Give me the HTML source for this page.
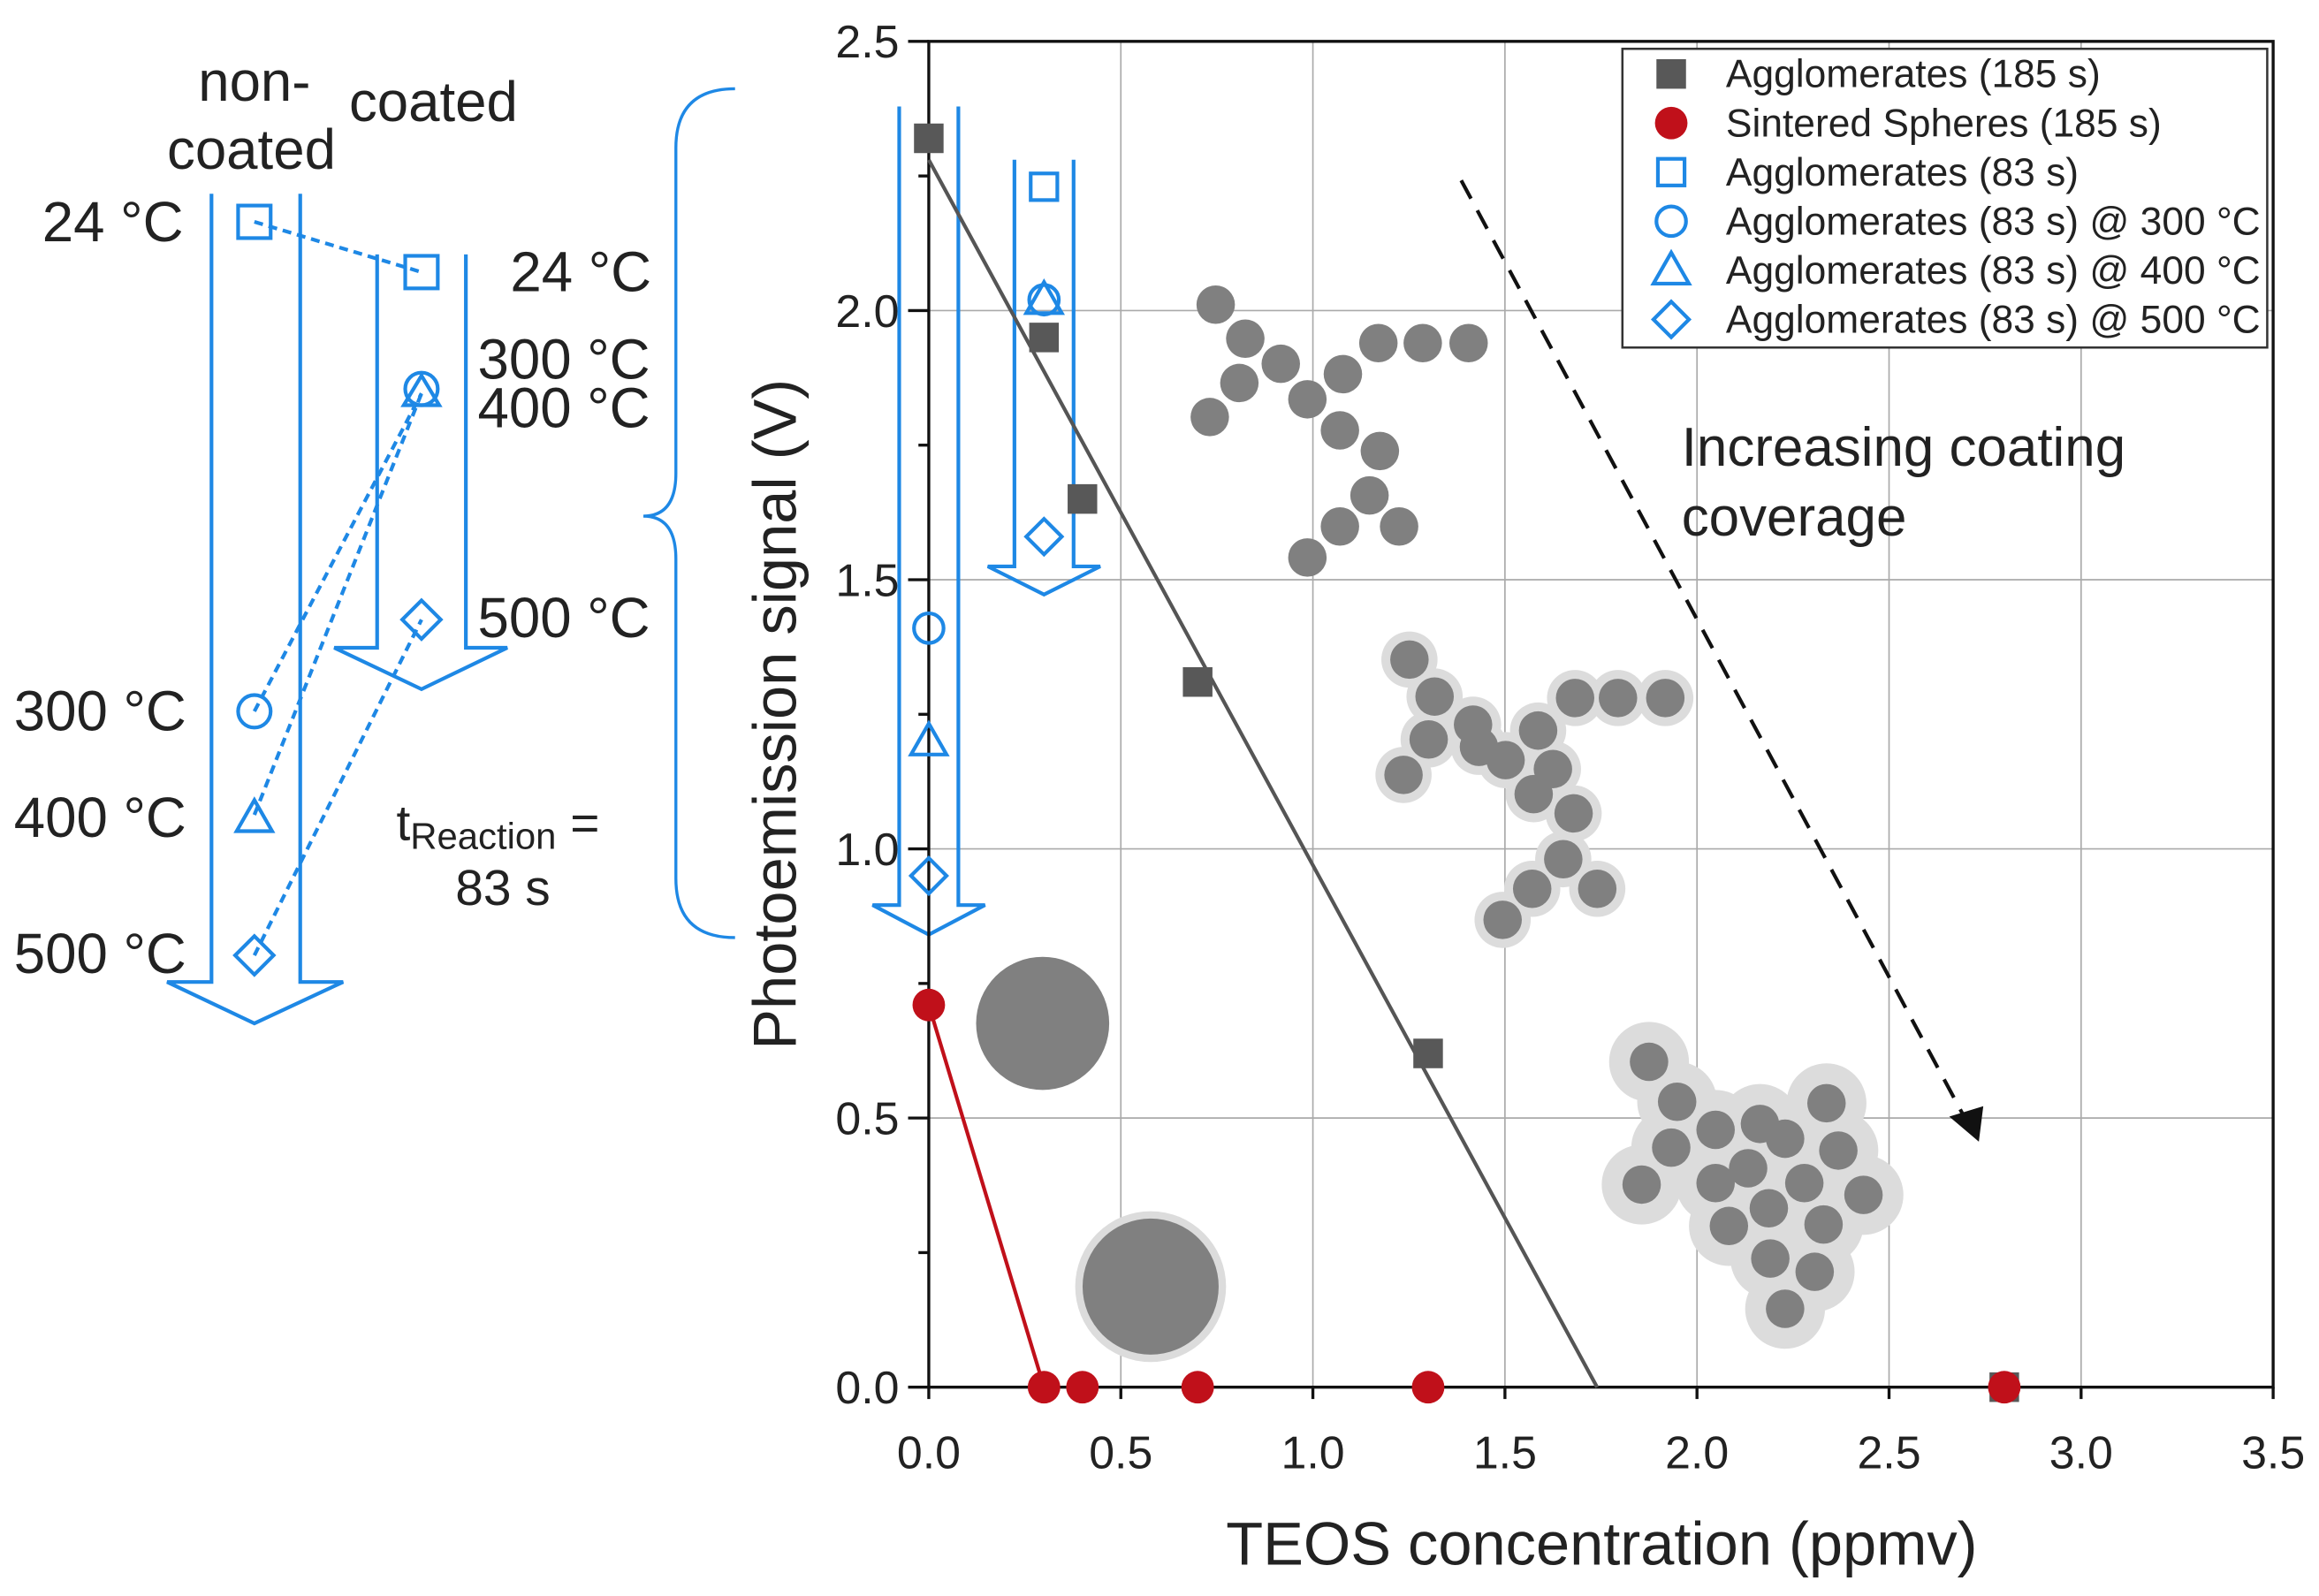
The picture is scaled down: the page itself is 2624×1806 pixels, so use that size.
<!DOCTYPE html>
<html><head><meta charset="utf-8">
<style>
html,body{margin:0;padding:0;background:#fff;}
svg{display:block;font-family:"Liberation Sans",Arial,sans-serif;}
</style></head>
<body>
<svg id="fig" width="2624" height="1806" viewBox="0 0 1568 1079.2" preserveAspectRatio="none" xmlns="http://www.w3.org/2000/svg">
<g id="schematic" fill="none" stroke="#1e88e5" stroke-width="2.5">
  <path d="M143,131 V664 H113 L172,692 L232,664 H203 V131"/>
  <path d="M255,172 V438 H226 L285,466 L343,438 H315 V172"/>
  <g stroke-dasharray="6,4" stroke-width="2.5">
    <line x1="172" y1="150" x2="285" y2="184"/>
    <line x1="172" y1="481" x2="285" y2="266"/>
    <line x1="172" y1="551" x2="285" y2="266"/>
    <line x1="172" y1="646" x2="285" y2="419"/>
  </g>
  <rect x="161" y="139" width="22" height="22"/>
  <rect x="274" y="173" width="22" height="22"/>
  <circle cx="285" cy="263" r="11"/>
  <path d="M285,254 L297,274 H273 Z"/>
  <path d="M285,406 L298,419 L285,432 L272,419 Z"/>
  <circle cx="172" cy="481" r="11"/>
  <path d="M172,541 L184,562 H160 Z"/>
  <path d="M172,633 L185,646 L172,659 L159,646 Z"/>
  <path stroke-width="2" d="M497,60 Q457,60 457,100 V320 Q457,349 435,349 Q457,349 457,378 V594 Q457,634 497,634"/>
</g>
<g font-size="38" fill="#222">
  <text x="172" y="68" text-anchor="middle">non-</text>
  <text x="170" y="114" text-anchor="middle">coated</text>
  <text x="236" y="82">coated</text>
  <text x="124" y="163" text-anchor="end">24 °C</text>
  <text x="345" y="197">24 °C</text>
  <text x="323" y="256">300 °C</text>
  <text x="323" y="289">400 °C</text>
  <text x="323" y="431">500 °C</text>
  <text x="126" y="494" text-anchor="end">300 °C</text>
  <text x="126" y="566" text-anchor="end">400 °C</text>
  <text x="126" y="658" text-anchor="end">500 °C</text>
  <text x="268" y="568" font-size="34">t<tspan font-size="25" dy="6">Reaction</tspan><tspan dy="-6"> =</tspan></text>
  <text x="340" y="612" text-anchor="middle" font-size="34">83 s</text>
</g>
<g id="chart"></g>
</svg>
<script>
const xTicks=[0,0.5,1,1.5,2,2.5,3,3.5];
const yTicks=[0,0.5,1,1.5,2,2.5];
const aggX=[0,0.3,0.4,0.7,1.3,2.8];
const aggY=[2.32,1.95,1.65,1.31,0.62,0.0];
const fitX=[0,1.74];
const fitY=[2.28,0];
const sinX=[0,0.3,0.4,0.7,1.3,2.8];
const sinY=[0.71,0,0,0,0,0];
const sqX=[0.3];const sqY=[2.23];
const c300X=[0.3,0];const c300Y=[2.02,1.41];
const t400X=[0.3,0];const t400Y=[2.02,1.2];
const d500X=[0.3,0];const d500Y=[1.58,0.95];
const legendLabels=["Agglomerates (185 s)","Sintered Spheres (185 s)","Agglomerates (83 s)","Agglomerates (83 s) @ 300 °C","Agglomerates (83 s) @ 400 °C","Agglomerates (83 s) @ 500 °C"];

const X0=628,X1=1537,Y0=938,Y1=28;
const sx=v=>X0+(X1-X0)*v/3.5;
const sy=v=>Y0-(Y0-Y1)*v/2.5;
const NS="http://www.w3.org/2000/svg";
const g=document.getElementById('chart');
function mk(tag,at,parent){const e=document.createElementNS(NS,tag);for(const k in at)e.setAttribute(k,at[k]);(parent||g).appendChild(e);return e;}
const BLUE="#1e88e5";

xTicks.forEach(t=>{if(t>0&&t<3.5){const l=mk('line',{x1:sx(t),x2:sx(t),y1:Y1,y2:Y0,stroke:'#aaa','stroke-width':1});

}});
yTicks.forEach(t=>{if(t>0&&t<2.5){const l=mk('line',{x1:X0,x2:X1,y1:sy(t),y2:sy(t),stroke:'#aaa','stroke-width':1});

}});

function cluster(pts,r,bg,name){const cg=mk('g',{});


if(bg){pts.forEach(p=>mk('circle',{cx:p[0],cy:p[1],r:r+bg,fill:'#dcdcdc'},cg));}
pts.forEach(p=>mk('circle',{cx:p[0],cy:p[1],r:r,fill:'#808080'},cg));}
cluster([[822,206],[842,229],[866,246],[838,259],[818,282],[884,270],[908,253],[932,232],[962,232],[993,232],[906,291],[933,305],[926,335],[946,356],[906,356],[884,377]],13,0,'agglomerate-uncoated');
cluster([[953,446],[970,471],[996,490],[966,500],[949,524],[1040,494],[1065,472],[1094,472],[1126,472],[1018,514],[1037,537],[1064,550],[1057,581],[1080,601],[1036,601],[1016,622],[1000,505],[1050,520]],13,6,'agglomerate-partially-coated');
cluster([[1115,718],[1134,745],[1160,764],[1130,776],[1110,801],[1182,790],[1207,770],[1235,746],[1243,778],[1260,808],[1196,817],[1169,829],[1197,851],[1233,828],[1227,860],[1207,885],[1190,760],[1160,800],[1220,800]],13,14,'agglomerate-coated');
let s1=mk('circle',{cx:705,cy:692,r:45,fill:'#808080'});


let s2=mk('circle',{cx:778,cy:870,r:51,fill:'#dcdcdc'});


let s3=mk('circle',{cx:778,cy:870,r:46,fill:'#808080'});



let a1=mk('path',{d:`M${sx(0)-20},72 V612 H${sx(0)-38} L${sx(0)},632 L${sx(0)+38},612 H${sx(0)+20} V72`,fill:'none',stroke:BLUE,'stroke-width':2.5});


let a2=mk('path',{d:`M${sx(0.3)-20},108 V383 H${sx(0.3)-38} L${sx(0.3)},402 L${sx(0.3)+38},383 H${sx(0.3)+20} V108`,fill:'none',stroke:BLUE,'stroke-width':2.5});



let ax=mk('path',{d:`M${X0},${Y1} H${X1} V${Y0} H${X0} Z`,fill:'none',stroke:'#111','stroke-width':2});


xTicks.forEach(t=>{mk('line',{x1:sx(t),x2:sx(t),y1:Y0,y2:Y0+8,stroke:'#111','stroke-width':2});
const tx=mk('text',{x:sx(t),y:Y0+55,'font-size':31,'text-anchor':'middle',fill:'#222'});tx.textContent=t.toFixed(1);

});
yTicks.forEach(t=>{mk('line',{x1:X0-14,x2:X0,y1:sy(t),y2:sy(t),stroke:'#111','stroke-width':2});
const tx=mk('text',{x:X0-20,y:sy(t)+11,'font-size':31,'text-anchor':'end',fill:'#222'});tx.textContent=t.toFixed(1);

});
for(let t=0.25;t<2.5;t+=0.5){mk('line',{x1:X0-7,x2:X0,y1:sy(t),y2:sy(t),stroke:'#111','stroke-width':2});}
let xl=mk('text',{x:1083,y:1058,'font-size':41,'text-anchor':'middle',fill:'#222'});xl.textContent='TEOS concentration (ppmv)';


let yl=mk('text',{x:0,y:0,'font-size':41,'text-anchor':'middle',fill:'#222',transform:'translate(538,483) rotate(-90)'});yl.textContent='Photoemission signal (V)';



let fl=mk('line',{x1:sx(fitX[0]),y1:sy(fitY[0]),x2:sx(fitX[1]),y2:sy(fitY[1]),stroke:'#555','stroke-width':2.5});


let rl=mk('polyline',{points:`${sx(sinX[0])},${sy(sinY[0])} ${sx(sinX[1])},${sy(sinY[1])}`,fill:'none',stroke:'#c0101a','stroke-width':2.5});



function marker(type,x,y,p,name){let e;
if(type==='fsq')e=mk('rect',{x:x-10,y:y-10,width:20,height:20,fill:'#585858'},p);
else if(type==='fci')e=mk('circle',{cx:x,cy:y,r:11,fill:'#c0101a'},p);
else if(type==='sq')e=mk('rect',{x:x-9,y:y-9,width:18,height:18,fill:'none',stroke:BLUE,'stroke-width':2.5},p);
else if(type==='ci')e=mk('circle',{cx:x,cy:y,r:10,fill:'none',stroke:BLUE,'stroke-width':2.5},p);
else if(type==='tr')e=mk('path',{d:`M${x},${y-12} L${x+12},${y+9} H${x-12} Z`,fill:'none',stroke:BLUE,'stroke-width':2.5},p);
else e=mk('path',{d:`M${x},${y-12} L${x+12},${y} L${x},${y+12} L${x-12},${y} Z`,fill:'none',stroke:BLUE,'stroke-width':2.5},p);

}
aggX.forEach((v,i)=>marker('fsq',sx(v),sy(aggY[i]),g,'agglomerate-185-point'));
sinX.forEach((v,i)=>marker('fci',sx(v),sy(sinY[i]),g,'sintered-point'));
sqX.forEach((v,i)=>marker('sq',sx(v),sy(sqY[i]),g,'agglomerate-83-point'));
c300X.forEach((v,i)=>marker('ci',sx(v),sy(c300Y[i]),g,'agglomerate-300-point'));
t400X.forEach((v,i)=>marker('tr',sx(v),sy(t400Y[i]),g,'agglomerate-400-point'));
d500X.forEach((v,i)=>marker('di',sx(v),sy(d500Y[i]),g,'agglomerate-500-point'));

let da=mk('line',{x1:988,y1:122,x2:1328,y2:755,stroke:'#111','stroke-width':2.5,'stroke-dasharray':'14,9'});


let dh=mk('path',{d:'M1338,772 L1318,755 L1341,748 Z',fill:'#111'});


let at1=mk('text',{x:1137,y:315,'font-size':37,fill:'#222'});at1.textContent='Increasing coating';


let at2=mk('text',{x:1137,y:362,'font-size':37,fill:'#222'});at2.textContent='coverage';



const lg=mk('g',{});


mk('rect',{x:1097,y:33,width:436,height:202,fill:'#fff',stroke:'#333','stroke-width':1.5},lg);
const types=['fsq','fci','sq','ci','tr','di'];
legendLabels.forEach((lab,i)=>{const y=50+i*33.2;
marker(types[i],1130,y,lg,'legend-marker');
const t=mk('text',{x:1167,y:y+9,'font-size':26.5,fill:'#222'},lg);t.textContent=lab;

});
</script>
</body></html>
